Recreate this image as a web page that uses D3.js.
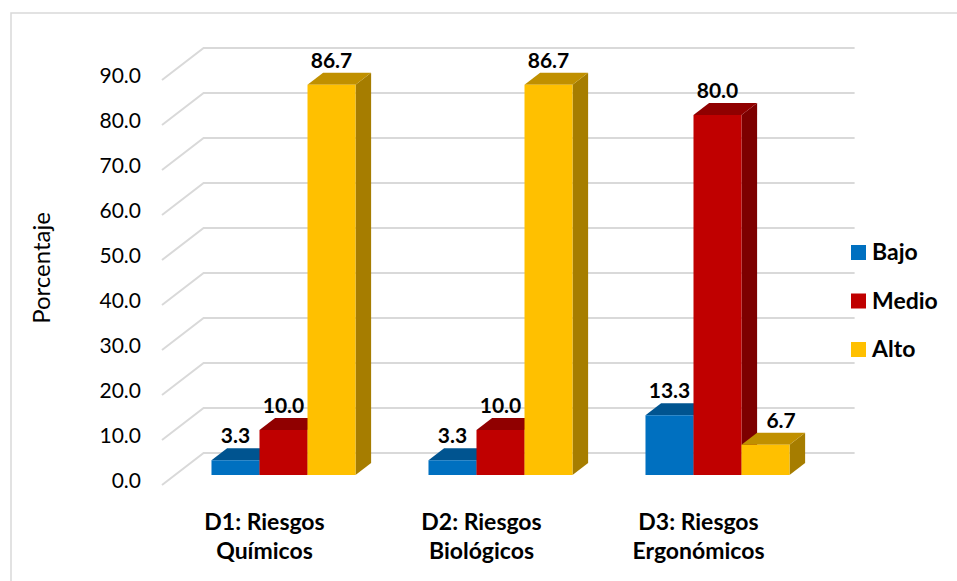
<!DOCTYPE html>
<html>
<head>
<meta charset="utf-8">
<script src="https://cdn.jsdelivr.net/npm/d3@7"></script>
<style>
  body { margin: 0; background: #fff; }
  text { font-family: Lato, "Open Sans", sans-serif; fill: #000; }
</style>
</head>
<body>
<div id="chart"></div>
<script>
// chart data
const categories = ["D1: Riesgos Químicos", "D2: Riesgos Biológicos", "D3: Riesgos Ergonómicos"];
const categoryLines = [["D1: Riesgos", "Químicos"], ["D2: Riesgos", "Biológicos"], ["D3: Riesgos", "Ergonómicos"]];
const seriesNames = ["Bajo", "Medio", "Alto"];
const bajo = [3.3, 3.3, 13.3];
const medio = [10.0, 10.0, 80.0];
const alto = [86.7, 86.7, 6.7];
const yTicks = [0, 10, 20, 30, 40, 50, 60, 70, 80, 90];
const yLabel = "Porcentaje";

const width = 957, height = 581;
const colors = { Bajo: "#0070C0", Medio: "#C00000", Alto: "#FFC000" };

// depth of the 3d box (back wall offset)
const DX = 41.6, DY = -32;
const f0 = 0.3125, f1 = 0.6875; // bar front/back planes in the depth

const svg = d3.select("#chart")
  .append("svg")
  .attr("width", width)
  .attr("height", height);

// outer border
svg.append("rect")
  .attr("x", 11).attr("y", 13)
  .attr("width", width + 10).attr("height", height + 10)
  .attr("fill", "none")
  .attr("stroke", "#d9d9d9")
  .attr("stroke-width", 1.5);

let x0 = d3.scaleBand()
  .domain(categories)
  .range([162, 813]);

let x1 = d3.scaleBand()
  .domain(seriesNames)
  .range([0, x0.bandwidth()])
  .paddingOuter(0.76);

let y = d3.scaleLinear()
  .domain([0, 90])
  .range([485, 80]);

// point in the 3d box: x on the front floor, value, depth fraction
const P = (x, v, f) => [x + DX * f, y(v) + DY * f];
const poly = (pts) => "M" + pts.map(p => p.join(",")).join("L") + "Z";

// gridlines: side wall diagonals + back wall horizontals
const grid = svg.append("g");
yTicks.forEach(t => {
  const a = P(x0.range()[0], t, 0), b = P(x0.range()[0], t, 1), c = P(x0.range()[1], t, 1);
  grid.append("path")
    .attr("d", `M${a}L${b}L${c}`)
    .attr("fill", "none")
    .attr("stroke", "#d9d9d9")
    .attr("stroke-width", 2);
});

// y tick labels
svg.append("g").selectAll("text")
  .data(yTicks)
  .enter()
  .append("text")
  .attr("x", 141)
  .attr("y", d => y(d) - 4)
  .attr("dy", "0.35em")
  .attr("text-anchor", "end")
  .attr("font-size", "21px")
  .text(d => d.toFixed(1));

svg.append("text")
  .attr("transform", "translate(42,268) rotate(-90)")
  .attr("text-anchor", "middle")
  .attr("dy", "0.35em")
  .attr("font-size", "24px")
  .text(yLabel);

const shade = (c, k) => d3.rgb(c).darker(k).formatHex();

// bars
const valuesBy = { Bajo: bajo, Medio: medio, Alto: alto };
const bars = svg.append("g");
categories.forEach((cat, i) => {
  seriesNames.forEach((s, j) => {
    const v = valuesBy[s][i];
    const xa = x0(cat) + x1(s), xb = xa + x1.bandwidth();
    const col = colors[s];
    // side
    bars.append("path")
      .attr("d", poly([P(xb, 0, f0), P(xb, v, f0), P(xb, v, f1), P(xb, 0, f1)]))
      .attr("fill", shade(col, 1.2));
    // top
    bars.append("path")
      .attr("d", poly([P(xa, v, f0), P(xb, v, f0), P(xb, v, f1), P(xa, v, f1)]))
      .attr("fill", shade(col, 0.8));
    // front
    bars.append("path")
      .attr("d", poly([P(xa, 0, f0), P(xb, 0, f0), P(xb, v, f0), P(xa, v, f0)]))
      .attr("fill", col);
    // value label (pushed right when the bar on its left is taller)
    const prev = j > 0 ? valuesBy[seriesNames[j - 1]][i] : 0;
    const shift = prev > v + 20 ? DX * (f1 - f0) : 0;
    bars.append("text")
      .attr("x", (xa + xb) / 2 + DX * f0 + shift)
      .attr("y", y(v) + DY * f1 - 5)
      .attr("text-anchor", "middle")
      .attr("font-size", "21px")
      .attr("font-weight", "bold")
      .text(v.toFixed(1));
  });
});

// category labels
categories.forEach((cat, i) => {
  const cx = x0(cat) + x0.bandwidth() / 2 - 6;
  const t = svg.append("text")
    .attr("x", cx)
    .attr("y", 530)
    .attr("text-anchor", "middle")
    .attr("font-size", "23px")
    .attr("font-weight", "bold");
  categoryLines[i].forEach((line, j) => {
    t.append("tspan")
      .attr("x", cx)
      .attr("dy", j === 0 ? 0 : 29)
      .text(line);
  });
});

// legend
const legend = svg.append("g");
seriesNames.forEach((s, i) => {
  legend.append("rect")
    .attr("x", 851).attr("y", 245 + i * 48.5)
    .attr("width", 15).attr("height", 15)
    .attr("fill", colors[s]);
  legend.append("text")
    .attr("x", 872).attr("y", 252 + i * 48.5)
    .attr("dy", "0.35em")
    .attr("font-size", "23px")
    .attr("font-weight", "bold")
    .text(s);
});
</script>
</body>
</html>
